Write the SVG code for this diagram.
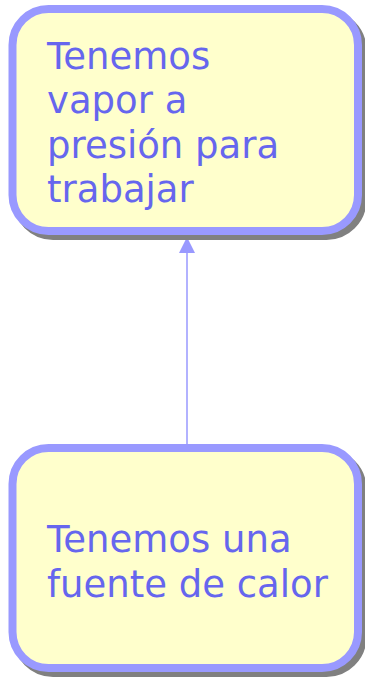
<svg xmlns="http://www.w3.org/2000/svg" width="365" height="679" viewBox="0 0 365 679">
<style>
.shadow{fill:#808080;stroke:#808080;stroke-width:8}
.box{fill:#ffffcc;stroke:#9999ff;stroke-width:8}
.lbl{font-family:"DejaVu Sans",Verdana,sans-serif;font-size:37px;fill:#6666ee}
.conn{stroke:#9999ff;stroke-width:1.5;fill:none}
</style>
<rect width="365" height="679" fill="#ffffff"/>
<g id="connectors">
<line class="conn" x1="187" y1="252" x2="187" y2="444"/>
<polygon points="187,237 179,253 195,253" fill="#9999ff"/>
</g>
<g id="node-vapor">
<rect class="shadow" x="17" y="14" width="345.5" height="222" rx="36"/>
<rect class="box" x="12.5" y="9" width="345.5" height="222" rx="36"/>
<text class="lbl" x="47" y="69">Tenemos</text>
<text class="lbl" x="47" y="113.3">vapor a</text>
<text class="lbl" x="47" y="157.6">presión para</text>
<text class="lbl" x="47" y="202">trabajar</text>
</g>
<g id="node-calor">
<rect class="shadow" x="17" y="453" width="345.5" height="220" rx="36"/>
<rect class="box" x="12.5" y="448" width="345.5" height="220" rx="36"/>
<text class="lbl" x="47" y="552">Tenemos una</text>
<text class="lbl" x="47" y="597">fuente de calor</text>
</g>
</svg>
